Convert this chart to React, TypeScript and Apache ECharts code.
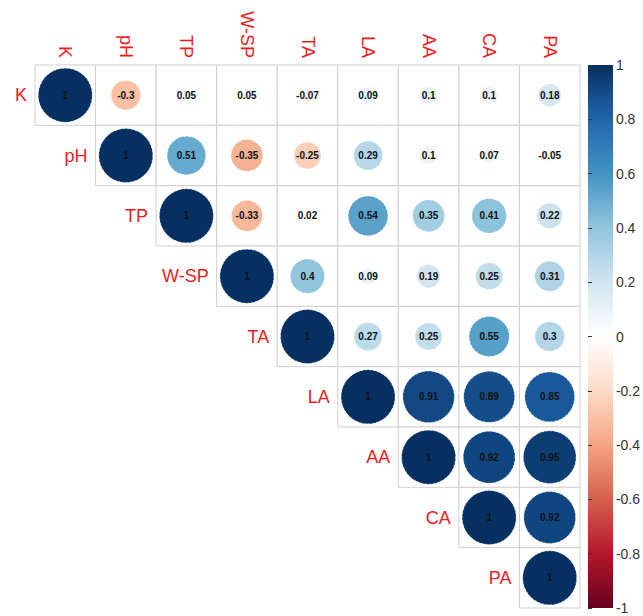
import React, { useEffect, useRef } from "react";
import * as echarts from "echarts";

const labels = ["K", "pH", "TP", "W-SP", "TA", "LA", "AA", "CA", "PA"];

// Upper-triangle rows, each starting at the diagonal
const rowK = [1, -0.3, 0.05, 0.05, -0.07, 0.09, 0.1, 0.1, 0.18];
const rowPH = [1, 0.51, -0.35, -0.25, 0.29, 0.1, 0.07, -0.05];
const rowTP = [1, -0.33, 0.02, 0.54, 0.35, 0.41, 0.22];
const rowWSP = [1, 0.4, 0.09, 0.19, 0.25, 0.31];
const rowTA = [1, 0.27, 0.25, 0.55, 0.3];
const rowLA = [1, 0.91, 0.89, 0.85];
const rowAA = [1, 0.92, 0.95];
const rowCA = [1, 0.92];
const rowPA = [1];

const rows = [rowK, rowPH, rowTP, rowWSP, rowTA, rowLA, rowAA, rowCA, rowPA];

const palette = [
  "#67001F", "#B2182B", "#D6604D", "#F4A582", "#FDDBC7", "#FFFFFF",
  "#D1E5F0", "#92C5DE", "#4393C3", "#2166AC", "#053061",
];

const colorbarTicks = { min: -1, max: 1, interval: 0.2 };

export default function App() {
  const ref = useRef<HTMLDivElement>(null);
  useEffect(() => {
    document.body.style.margin = "0";
    const chart = echarts.init(ref.current!, null, { renderer: "svg" });

    const pts: number[][] = [];
    const cells: number[][] = [];
    rows.forEach((row, i) => {
      row.forEach((v, k) => {
        const j = i + k;
        pts.push([j, i, v]);
        cells.push([j, i]);
      });
    });
    const diag = labels.map((_, i) => [i, i]);

    const option: any = {
      animation: false,
      backgroundColor: "#fff",
      grid: [
        { left: 35, top: 65, width: 545, height: 543 },
        { left: 588, top: 65, width: 25, height: 543 },
      ],
      xAxis: [
        {
          type: "category",
          data: labels,
          gridIndex: 0,
          position: "top",
          axisLine: { show: false },
          axisTick: { show: false },
          splitLine: { show: false },
          axisLabel: {
            rotate: 90,
            color: "#EE1C1C",
            fontSize: 18,
            fontFamily: "Arial, 'Liberation Sans', sans-serif",
            margin: 7,
            interval: 0,
          },
        },
        { type: "value", gridIndex: 1, show: false, min: 0, max: 1 },
      ],
      yAxis: [
        { type: "category", data: labels, inverse: true, gridIndex: 0, show: false },
        {
          type: "value",
          gridIndex: 1,
          min: colorbarTicks.min,
          max: colorbarTicks.max,
          interval: colorbarTicks.interval,
          position: "right",
          axisLine: { show: false },
          axisTick: { show: true, length: 4, lineStyle: { color: "#333" } },
          splitLine: { show: false },
          axisLabel: {
            fontSize: 14,
            color: "#333",
            margin: 14,
            fontFamily: "Arial, 'Liberation Sans', sans-serif",
            formatter: (v: number) => String(Math.round(v * 10) / 10),
          },
        },
      ],
      visualMap: {
        show: false,
        type: "continuous",
        min: -1,
        max: 1,
        dimension: 2,
        seriesIndex: 1,
        inRange: { color: palette },
      },
      graphic: [
        {
          type: "rect",
          left: 588,
          top: 65,
          shape: { width: 25, height: 543 },
          style: {
            fill: new echarts.graphic.LinearGradient(
              0, 1, 0, 0,
              palette.map((c, i) => ({ offset: i / (palette.length - 1), color: c }))
            ),
          },
          z: 0,
        },
      ],
      series: [
        {
          type: "custom",
          xAxisIndex: 0,
          yAxisIndex: 0,
          data: cells,
          z: 1,
          silent: true,
          renderItem: (params: any, api: any) => {
            const c = api.coord([api.value(0), api.value(1)]);
            const s = api.size([1, 1]);
            return {
              type: "rect",
              shape: { x: c[0] - s[0] / 2, y: c[1] - s[1] / 2, width: s[0], height: s[1] },
              style: { fill: "#fff", stroke: "#cfcfcf", lineWidth: 1 },
            };
          },
        },
        {
          type: "scatter",
          xAxisIndex: 0,
          yAxisIndex: 0,
          data: pts,
          z: 3,
          symbol: "circle",
          symbolSize: (v: number[]) => 54 * Math.sqrt(Math.abs(v[2])),
          itemStyle: {
            opacity: 1,
            borderColor: "rgba(255,255,255,0.55)",
            borderWidth: 1,
            borderType: [2, 2],
          },
          label: {
            show: true,
            position: "inside",
            formatter: (p: any) => String(p.value[2]),
            fontSize: 10,
            fontWeight: "bold",
            color: "#111",
            fontFamily: "Arial, 'Liberation Sans', sans-serif",
          },
        },
        {
          type: "custom",
          xAxisIndex: 0,
          yAxisIndex: 0,
          data: diag,
          z: 4,
          silent: true,
          renderItem: (params: any, api: any) => {
            const idx = api.value(0);
            const c = api.coord([idx, api.value(1)]);
            const s = api.size([1, 1]);
            return {
              type: "text",
              x: c[0] - s[0] / 2 - 8,
              y: c[1],
              style: {
                text: labels[idx],
                align: "right",
                verticalAlign: "middle",
                textAlign: "right",
                textVerticalAlign: "middle",
                fill: "#EE1C1C",
                fontSize: 18,
                fontFamily: "Arial, 'Liberation Sans', sans-serif",
              },
            };
          },
        },
      ],
    };
    chart.setOption(option);
    return () => chart.dispose();
  }, []);
  return <div ref={ref} style={{ width: 643, height: 616 }} />;
}
